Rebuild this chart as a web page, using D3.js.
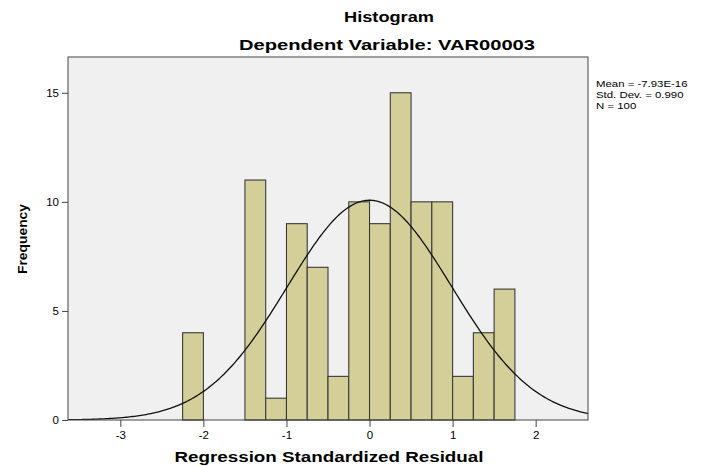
<!DOCTYPE html>
<html>
<head>
<meta charset="utf-8">
<script src="https://cdn.jsdelivr.net/npm/d3@7"></script>
<style>
  body { margin: 0; background: #fff; }
  text { font-family: "Liberation Sans", Arial, sans-serif; fill: #000; }
</style>
</head>
<body>
<div id="chart"></div>
<script>
const width = 705;
const height = 466;
const margin = { top: 57, right: 117, bottom: 46, left: 68 };

// histogram bins (left edge) and counts
const binStarts = [-2.25, -1.5, -1.25, -1.0, -0.75, -0.5, -0.25, 0, 0.25, 0.5, 0.75, 1.0, 1.25, 1.5];
const counts = [4, 11, 1, 9, 7, 2, 10, 9, 15, 10, 10, 2, 4, 6];
const binWidth = 0.25;

const xTicks = [-3, -2, -1, 0, 1, 2];
const yTicks = [0, 5, 10, 15];

const statMean = -7.93e-16;
const statSd = 0.990;
const statN = 100;
const statLines = ["Mean = -7.93E-16", "Std. Dev. = 0.990", "N = 100"];

const svg = d3.select("#chart")
  .append("svg")
  .attr("width", width)
  .attr("height", height);

const x = d3.scaleLinear()
  .domain([-3.63, 2.63])
  .range([margin.left, width - margin.right]);

const y = d3.scaleLinear()
  .domain([0, 16.64])
  .range([height - margin.bottom, margin.top]);

// plot background
svg.append("rect")
  .attr("x", margin.left)
  .attr("y", margin.top)
  .attr("width", width - margin.left - margin.right)
  .attr("height", height - margin.top - margin.bottom)
  .attr("fill", "#f0f0f0");

// bars
svg.selectAll(".bar")
  .data(binStarts.map((b, i) => ({ start: b, count: counts[i] })))
  .join("rect")
  .attr("class", "bar")
  .attr("x", d => x(d.start))
  .attr("y", d => y(d.count))
  .attr("width", d => x(d.start + binWidth) - x(d.start))
  .attr("height", d => y(0) - y(d.count))
  .attr("fill", "#d4cf98")
  .attr("stroke", "#3a3a3a")
  .attr("stroke-width", 1.1);

// fitted normal curve
svg.append("clipPath").attr("id", "plot-clip")
  .append("rect")
  .attr("x", margin.left)
  .attr("y", margin.top)
  .attr("width", width - margin.left - margin.right)
  .attr("height", height - margin.top - margin.bottom);

const normal = v => statN * binWidth *
  Math.exp(-0.5 * ((v - statMean) / statSd) ** 2) / (statSd * Math.sqrt(2 * Math.PI));

const curveXs = d3.range(x.domain()[0], x.domain()[1] + 0.01, 0.02);

svg.append("path")
  .datum(curveXs)
  .attr("clip-path", "url(#plot-clip)")
  .attr("fill", "none")
  .attr("stroke", "#111")
  .attr("stroke-width", 1.3)
  .attr("d", d3.line().x(d => x(d)).y(d => y(normal(d))));

// frame
svg.append("rect")
  .attr("x", margin.left)
  .attr("y", margin.top)
  .attr("width", width - margin.left - margin.right)
  .attr("height", height - margin.top - margin.bottom)
  .attr("fill", "none")
  .attr("stroke", "#444")
  .attr("stroke-width", 1);

// axes
const xAxis = svg.append("g")
  .attr("transform", `translate(0, ${height - margin.bottom})`)
  .call(d3.axisBottom(x).tickValues(xTicks).tickSize(7).tickPadding(4).tickFormat(d3.format("d")));

const yAxis = svg.append("g")
  .attr("transform", `translate(${margin.left}, 0)`)
  .call(d3.axisLeft(y).tickValues(yTicks).tickSize(6).tickPadding(3));

[xAxis, yAxis].forEach(g => {
  g.select(".domain").remove();
  g.selectAll(".tick line").attr("stroke", "#444");
  g.selectAll(".tick text")
    .attr("font-size", 11.5)
    .attr("fill", "#222")
    .attr("font-family", "Liberation Sans, Arial, sans-serif");
});
xAxis.selectAll(".tick text").text(d => d < 0 ? "-" + Math.abs(d) : d);

// titles
svg.append("text")
  .attr("x", 389)
  .attr("y", 22)
  .attr("text-anchor", "middle")
  .attr("font-size", 14)
  .attr("font-weight", "bold")
  .attr("textLength", 90)
  .attr("lengthAdjust", "spacingAndGlyphs")
  .text("Histogram");

svg.append("text")
  .attr("x", 387)
  .attr("y", 50)
  .attr("text-anchor", "middle")
  .attr("font-size", 14)
  .attr("font-weight", "bold")
  .attr("textLength", 296)
  .attr("lengthAdjust", "spacingAndGlyphs")
  .text("Dependent Variable: VAR00003");

svg.append("text")
  .attr("x", 329)
  .attr("y", 462)
  .attr("text-anchor", "middle")
  .attr("font-size", 14)
  .attr("font-weight", "bold")
  .attr("textLength", 309)
  .attr("lengthAdjust", "spacingAndGlyphs")
  .text("Regression Standardized Residual");

svg.append("text")
  .attr("transform", "translate(27, 239) rotate(-90)")
  .attr("text-anchor", "middle")
  .attr("font-size", 13)
  .attr("font-weight", "bold")
  .attr("textLength", 70)
  .attr("lengthAdjust", "spacingAndGlyphs")
  .text("Frequency");

// stats box, stretched horizontally like the source rendering
const stats = svg.append("g")
  .attr("transform", "translate(596, 0) scale(1.2, 1)");

stats.selectAll(".stat")
  .data(statLines)
  .join("text")
  .attr("class", "stat")
  .attr("x", 0)
  .attr("y", (d, i) => 87 + i * 11)
  .attr("font-size", 9.5)
  .text(d => d);
</script>
</body>
</html>
